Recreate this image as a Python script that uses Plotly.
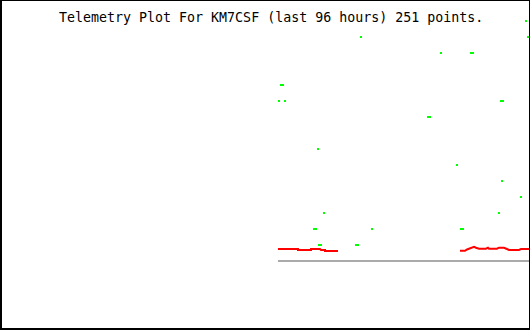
import plotly.graph_objects as go

# Time axis: hours relative to now (last 96 hours)
green_hours = [-45.46, -45.10, -44.74, -44.38, -39.12, -38.76, -38.40, -38.22, -37.86, -37.31,
               -31.52, -31.15, -30.61, -28.62, -18.48, -18.11, -16.12, -13.22, -12.50, -12.14,
               -10.69, -10.32, -5.62, -5.25, -5.07, -4.89, -1.63, -0.72, -0.36]
green_values = [10, 11, 11, 10, 2, 2, 7, 1, 1, 3,
                1, 1, 14, 2, 9, 9, 13, 6, 2, 2,
                13, 13, 3, 10, 5, 10, 4, 15, 14]

red_hours = [-45.65, -42.02, -42.02, -39.67, -39.67, -38.04, -37.86, -37.13, -37.13, -34.78,
             None,
             -12.68, -11.77, -11.41, -10.87, -10.14, -9.78, -9.24, -7.97, -7.61, -7.43,
             -5.98, -5.62, -4.71, -4.17, -3.80, -1.99, -1.63, 0.0]
red_values = [0.75, 0.75, 0.69, 0.69, 0.75, 0.75, 0.69, 0.69, 0.625, 0.625,
              None,
              0.64, 0.64, 0.72, 0.81, 0.89, 0.83, 0.77, 0.77, 0.83, 0.77,
              0.77, 0.83, 0.83, 0.75, 0.69, 0.69, 0.75, 0.75]

base_hours = [-45.65, 0.0]
base_values = [0, 0]

title_text = "Telemetry Plot For KM7CSF (last 96 hours) 251 points."

fig = go.Figure()
fig.add_trace(go.Scatter(x=base_hours, y=base_values, mode="lines",
                         line=dict(color="#aaaaaa", width=2), hoverinfo="skip"))
fig.add_trace(go.Scatter(x=red_hours, y=red_values, mode="lines",
                         line=dict(color="#ff0000", width=2), connectgaps=False))
fig.add_trace(go.Scatter(x=green_hours, y=green_values, mode="markers",
                         marker=dict(color="#00ff00", size=2, symbol="square",
                                     line=dict(width=0))))

W, H = 530, 330
fig.update_layout(
    width=W, height=H,
    margin=dict(l=0, r=0, t=0, b=0),
    paper_bgcolor="white", plot_bgcolor="white",
    showlegend=False,
    xaxis=dict(range=[-96, 0], visible=False, showgrid=False, zeroline=False),
    yaxis=dict(range=[-4.3125, 16.3125], visible=False, showgrid=False, zeroline=False),
    font=dict(family="DejaVu Sans Mono", size=13, color="black"),
    annotations=[dict(text=title_text, xref="paper", yref="paper",
                      x=271 / W, y=1 - 17 / H, xanchor="center", yanchor="middle",
                      showarrow=False,
                      font=dict(family="DejaVu Sans Mono", size=13.3, color="black"))],
    shapes=[dict(type="rect", xref="paper", yref="paper",
                 x0=1 / W, x1=1.0, y0=1 / H, y1=1.0,
                 line=dict(color="black", width=2))],
)

fig.write_html("out.html")
